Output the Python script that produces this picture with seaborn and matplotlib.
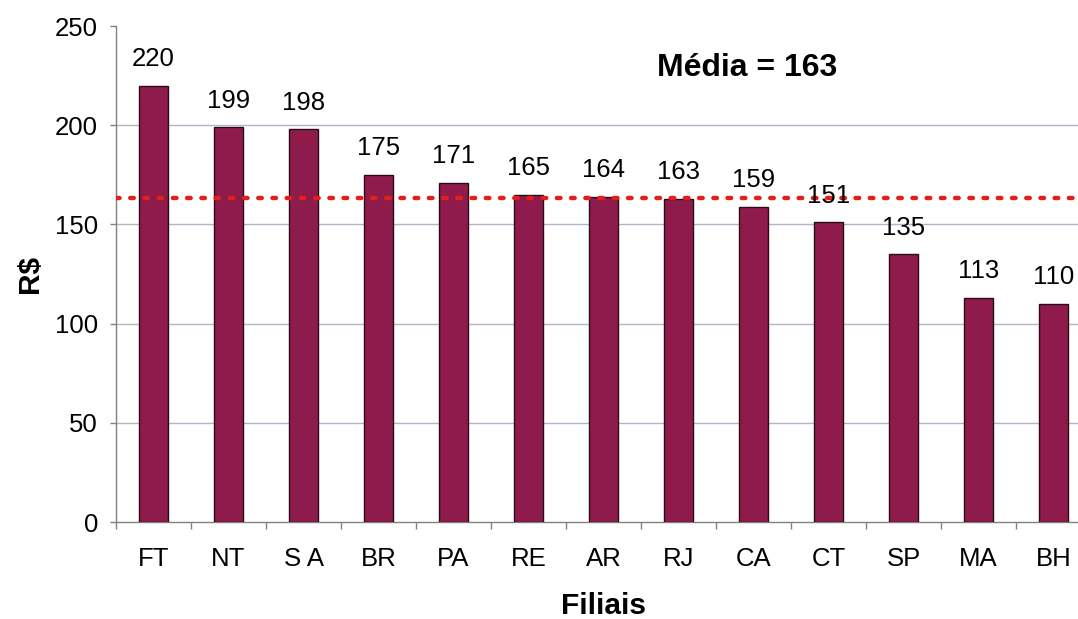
import numpy as np
import pandas as pd
import matplotlib
matplotlib.use("Agg")
import matplotlib.pyplot as plt
import seaborn as sns

filiais = ["FT", "NT", "S A", "BR", "PA", "RE", "AR", "RJ", "CA", "CT", "SP", "MA", "BH"]
valores = [220, 199, 198, 175, 171, 165, 164, 163, 159, 151, 135, 113, 110]
y_ticks = [0, 50, 100, 150, 200, 250]

df = pd.DataFrame({"Filial": filiais, "Valor": valores})
media = float(np.mean(valores))

sns.set_style("white")
plt.rcParams["font.family"] = ["Liberation Sans", "DejaVu Sans"]
plt.rcParams["text.color"] = "black"
plt.rcParams["xtick.color"] = "black"
plt.rcParams["ytick.color"] = "black"
plt.rcParams["axes.labelcolor"] = "black"

fig = plt.figure(figsize=(10.78, 6.19), dpi=100)
ax = fig.add_axes([116 / 1078, 97 / 619, 975 / 1078, 496 / 619])

sns.barplot(data=df, x="Filial", y="Valor", color="#8E1B4B", width=0.39,
            edgecolor="#2a0c18", linewidth=1.0, saturation=1, ax=ax, zorder=3)

ax.set_ylim(0, 250)
ax.set_xlim(-0.5, len(filiais) - 0.5)
ax.set_yticks(y_ticks)
ax.set_yticklabels([str(t) for t in y_ticks], fontsize=18.5)

# gridlines (except top)
for t in y_ticks[1:-1]:
    ax.axhline(t, color="#b4b4c8", lw=1.0, zorder=1)

# mean line
ax.axhline(media, color="#e0201b", lw=3.2, linestyle=(0, (0.8, 2.4)),
           dash_capstyle="round", zorder=4)

# value labels
for i, v in enumerate(valores):
    ax.annotate(str(v), (i, v), xytext=(0, 10.5), textcoords="offset points",
                ha="center", va="bottom", fontsize=18.5, color="black", zorder=5)

ax.text(0.647, 0.915, f"Média = {round(media)}", transform=ax.transAxes,
        fontsize=23, fontweight="bold", ha="center", va="center")

# ticks: labels at bar centres, tick marks between categories
ax.set_xticks(range(len(filiais)))
ax.set_xticklabels(filiais, fontsize=18.5)
ax.set_xticks(np.arange(-0.5, len(filiais), 1.0), minor=True)
ax.tick_params(axis="x", which="major", length=0, pad=18)
ax.tick_params(axis="x", which="minor", length=5, color="#808080", width=1, direction="out")
ax.tick_params(axis="y", which="major", length=4, color="#808080", width=1, direction="out", pad=9)
ax.yaxis.set_ticks_position("left")
ax.xaxis.set_ticks_position("bottom")

for s in ["top", "right"]:
    ax.spines[s].set_visible(False)
for s in ["left", "bottom"]:
    ax.spines[s].set_color("#808080")
    ax.spines[s].set_linewidth(1.0)

ax.set_xlabel("Filiais", fontsize=21.5, fontweight="bold", labelpad=15)
ax.set_ylabel("R$", fontsize=21.5, fontweight="bold", labelpad=8)

fig.savefig("out.png", dpi=100)
